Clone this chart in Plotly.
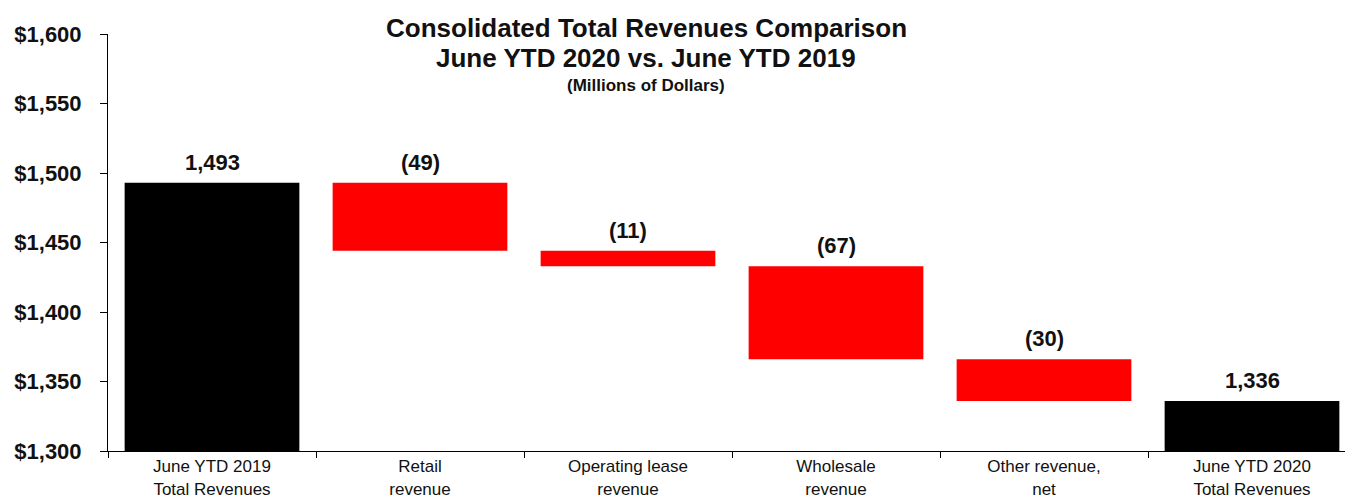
import plotly.graph_objects as go

# Revenue bridge, millions of dollars
categories = [
    "June YTD 2019<br>Total Revenues",
    "Retail<br>revenue",
    "Operating lease<br>revenue",
    "Wholesale<br>revenue",
    "Other revenue,<br>net",
    "June YTD 2020<br>Total Revenues",
]
values = [1493, -49, -11, -67, -30, 1336]
measures = ["absolute", "relative", "relative", "relative", "relative", "total"]
labels = ["1,493", "(49)", "(11)", "(67)", "(30)", "1,336"]

y_ticks = [1300, 1350, 1400, 1450, 1500, 1550, 1600]
y_tick_text = ["$1,300", "$1,350", "$1,400", "$1,450", "$1,500", "$1,550", "$1,600"]

FONT = "Liberation Sans, Arial, sans-serif"
INK = "#111111"

fig = go.Figure(
    go.Waterfall(
        x=categories,
        y=values,
        measure=measures,
        width=[0.84] * len(categories),
        increasing=dict(marker=dict(color="#ff0000")),
        decreasing=dict(marker=dict(color="#ff0000", line=dict(width=0))),
        totals=dict(marker=dict(color="#000000", line=dict(width=0))),
        connector=dict(visible=False),
        hoverinfo="skip",
    )
)

# value labels sit just above the top of each bar
running = 0
for cat, v, m, lab in zip(categories, values, measures, labels):
    if m == "absolute":
        top = v
        running = v
    elif m == "total":
        top = running
    else:
        top = max(running, running + v)
        running += v
    fig.add_annotation(
        x=cat, y=top, text=f"<b>{lab}</b>", showarrow=False,
        yanchor="bottom", yshift=6,
        font=dict(family=FONT, size=22, color=INK),
    )

# stacked title lines, placed in pixel terms relative to the plot area
PLOT_L, PLOT_R, PLOT_T, PLOT_B = 108, 1345, 34, 451
title_lines = [
    ("<b>Consolidated Total Revenues Comparison</b>", 28, 26),
    ("<b>June YTD 2020 vs. June YTD 2019</b>", 58, 26),
    ("<b>(Millions of Dollars)</b>", 85, 17),
]
for txt, ypx, size in title_lines:
    fig.add_annotation(
        x=(646 - PLOT_L) / (PLOT_R - PLOT_L), xref="paper",
        y=(PLOT_B - ypx) / (PLOT_B - PLOT_T), yref="paper",
        text=txt, showarrow=False, yanchor="middle",
        font=dict(family=FONT, size=size, color=INK),
    )

fig.update_layout(
    width=1345,
    height=499,
    margin=dict(l=PLOT_L, r=0, t=PLOT_T, b=499 - PLOT_B, autoexpand=False),
    paper_bgcolor="white",
    plot_bgcolor="white",
    showlegend=False,
    font=dict(family=FONT, color=INK),
    xaxis=dict(
        type="category",
        range=[-0.5, 5.5 - 11 / 208],
        automargin=False,
        showline=True, linecolor="#000000", linewidth=1,
        ticks="outside", tickson="boundaries", ticklen=6, tickcolor="#000000",
        tickfont=dict(family=FONT, size=17, color=INK),
        showgrid=False, zeroline=False,
    ),
    yaxis=dict(
        range=[1300, 1600],
        automargin=False,
        tickvals=y_ticks, ticktext=[f"<b>{t}</b>" for t in y_tick_text],
        showline=True, linecolor="#000000", linewidth=1,
        ticks="outside", ticklen=7, tickcolor="#000000",
        ticklabelstandoff=14,
        tickfont=dict(family=FONT, size=22, color=INK),
        showgrid=False, zeroline=False,
    ),
)

fig.write_html("out.html")
